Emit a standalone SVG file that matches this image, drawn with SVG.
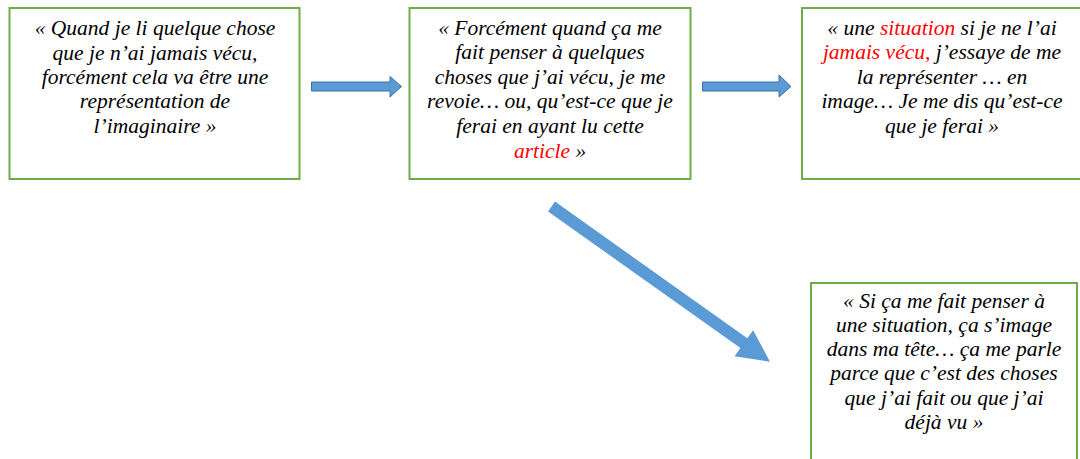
<svg xmlns="http://www.w3.org/2000/svg" width="1080" height="459" viewBox="0 0 1080 459">
<style>
.box{fill:#fff;stroke:#70AD47;stroke-width:2}
.t{font-family:"Liberation Serif","Times New Roman",serif;font-style:italic;font-size:21.5px;fill:#000;text-anchor:middle}
.r{fill:#FF0000}
.arr{fill:#5B9BD5;stroke:#41719C;stroke-width:1}
.arr2{fill:#5B9BD5}
</style>
<rect width="1080" height="459" fill="#fff"/>
<g id="node1">
<rect class="box" x="9.5" y="8" width="290" height="171"/>
<text class="t" x="155" y="35">« Quand je li quelque chose</text>
<text class="t" x="155" y="60">que je n’ai jamais vécu,</text>
<text class="t" x="155" y="84">forcément cela va être une</text>
<text class="t" x="155" y="108">représentation de</text>
<text class="t" x="155" y="133">l’imaginaire »</text>
</g>
<g id="node2">
<rect class="box" x="409.5" y="8" width="281" height="171"/>
<text class="t" x="550" y="35">« Forcément quand ça me</text>
<text class="t" x="550" y="59">fait penser à quelques</text>
<text class="t" x="550" y="84">choses que j’ai vécu, je me</text>
<text class="t" x="550" y="108">revoie… ou, qu’est-ce que je</text>
<text class="t" x="550" y="133">ferai en ayant lu cette</text>
<text class="t" x="550" y="158"><tspan class="r">article</tspan> »</text>
</g>
<g id="node3">
<rect class="box" x="802" y="8" width="290" height="171"/>
<text class="t" x="942" y="35">« une <tspan class="r">situation</tspan> si je ne l’ai</text>
<text class="t" x="942" y="59"><tspan class="r">jamais vécu,</tspan> j’essaye de me</text>
<text class="t" x="942" y="84">la représenter … en</text>
<text class="t" x="942" y="108">image… Je me dis qu’est-ce</text>
<text class="t" x="942" y="133">que je ferai »</text>
</g>
<g id="node4">
<rect class="box" x="811" y="283" width="266" height="190"/>
<text class="t" x="944" y="308">« Si ça me fait penser à</text>
<text class="t" x="944" y="332">une situation, ça s’image</text>
<text class="t" x="944" y="356">dans ma tête… ça me parle</text>
<text class="t" x="944" y="380">parce que c’est des choses</text>
<text class="t" x="944" y="405">que j’ai fait ou que j’ai</text>
<text class="t" x="944" y="429">déjà vu »</text>
</g>
<g id="connectors">
<polygon class="arr" points="311.5,82 390,82 390,76.5 401.5,86.5 390,97 390,91 311.5,91"/>
<polygon class="arr" points="702.5,82 779,82 779,75 791,86.5 779,97 779,91 702.5,91"/>
<polygon class="arr2" transform="translate(551.5,206.5) rotate(35.4)" points="0,-6 236,-6 236,-16 268,0 236,16 236,6 0,6"/>
</g>
</svg>
